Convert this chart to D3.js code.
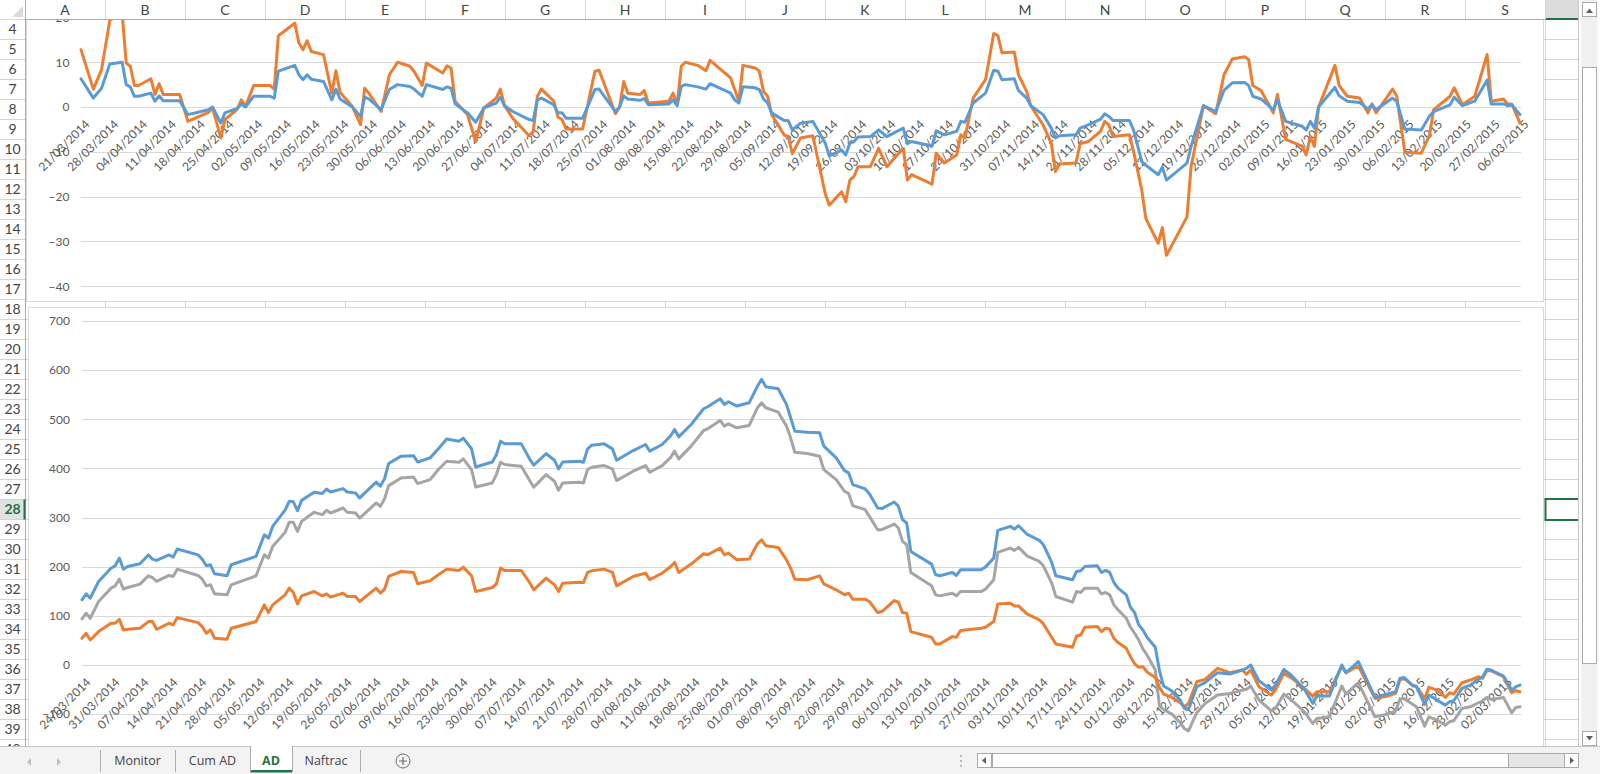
<!DOCTYPE html>
<html>
<head>
<meta charset="utf-8">
<title>AD</title>
<script src="https://cdn.jsdelivr.net/npm/d3@7"></script>
<style>
  html, body { margin: 0; padding: 0; background: #ffffff; overflow: hidden; }
  svg { display: block; }
</style>
</head>
<body>
<svg id="sheet" width="1600" height="774"></svg>
<script>
// ---- data ----
const topDates = [
  "2014-03-21","2014-03-24","2014-03-26","2014-03-28","2014-03-31","2014-04-01","2014-04-02","2014-04-03","2014-04-04","2014-04-07",
  "2014-04-08","2014-04-09","2014-04-10","2014-04-14","2014-04-16","2014-04-21","2014-04-22","2014-04-24","2014-04-25","2014-04-28",
  "2014-04-29","2014-04-30","2014-05-02","2014-05-06","2014-05-07","2014-05-08","2014-05-12","2014-05-13","2014-05-14","2014-05-15",
  "2014-05-16","2014-05-19","2014-05-21","2014-05-22","2014-05-23","2014-05-26","2014-05-28","2014-05-29","2014-05-30","2014-06-02",
  "2014-06-04","2014-06-06","2014-06-09","2014-06-10","2014-06-12","2014-06-13","2014-06-17","2014-06-18","2014-06-19","2014-06-20",
  "2014-06-23","2014-06-25","2014-06-27","2014-06-30","2014-07-01","2014-07-02","2014-07-04","2014-07-08","2014-07-09","2014-07-10",
  "2014-07-11","2014-07-14","2014-07-15","2014-07-16","2014-07-17","2014-07-21","2014-07-24","2014-07-25","2014-07-29","2014-07-30",
  "2014-07-31","2014-08-01","2014-08-04","2014-08-05","2014-08-06","2014-08-11","2014-08-12","2014-08-13","2014-08-14","2014-08-15",
  "2014-08-18","2014-08-20","2014-08-21","2014-08-26","2014-08-27","2014-08-28","2014-08-29","2014-09-01","2014-09-02","2014-09-03",
  "2014-09-04","2014-09-05","2014-09-08","2014-09-09","2014-09-10","2014-09-12","2014-09-15","2014-09-18","2014-09-19","2014-09-22",
  "2014-09-23","2014-09-24","2014-09-25","2014-09-26","2014-09-29","2014-10-01","2014-10-03","2014-10-07","2014-10-08","2014-10-09",
  "2014-10-14","2014-10-15","2014-10-17","2014-10-20","2014-10-21","2014-10-22","2014-10-24","2014-10-27","2014-10-29","2014-10-30",
  "2014-10-31","2014-11-03","2014-11-04","2014-11-06","2014-11-07","2014-11-10","2014-11-12","2014-11-13","2014-11-14","2014-11-18",
  "2014-11-19","2014-11-21","2014-11-24","2014-11-25","2014-11-26","2014-11-27","2014-12-01","2014-12-02","2014-12-04","2014-12-05",
  "2014-12-08","2014-12-09","2014-12-10","2014-12-15","2014-12-16","2014-12-19","2014-12-22","2014-12-24","2014-12-26","2014-12-29",
  "2014-12-30","2014-12-31","2015-01-02","2015-01-05","2015-01-06","2015-01-08","2015-01-12","2015-01-13","2015-01-14","2015-01-15",
  "2015-01-16","2015-01-20","2015-01-21","2015-01-23","2015-01-26","2015-01-28","2015-01-29","2015-01-30","2015-02-03","2015-02-04",
  "2015-02-06","2015-02-10","2015-02-12","2015-02-13","2015-02-17","2015-02-18","2015-02-20","2015-02-23","2015-02-26","2015-02-27",
  "2015-03-02","2015-03-03","2015-03-04","2015-03-06"
];
const topBlue = [
  6.3, 2.0, 4.2, 9.6, 10.0, 5.0, 4.5, 2.4, 2.4, 3.1,
  1.3, 2.5, 1.4, 1.4, -1.7, -0.6, 0.0, -3.6, -1.3, -0.3,
  0.7, 0.0, 2.4, 2.4, 2.0, 8.0, 9.3, 7.2, 6.1, 7.2,
  6.2, 5.7, 1.6, 4.0, 1.8, 0.0, -2.1, 2.2, 1.8, -0.6,
  3.9, 5.0, 4.6, 4.0, 2.4, 5.0, 3.9, 4.5, 4.2, 0.7,
  -1.3, -3.4, -0.2, 0.9, 2.2, 0.3, -1.0, -2.8, -3.0, 1.6,
  2.0, 0.5, -1.3, -1.3, -2.5, -2.5, 3.9, 4.0, -1.0, 0.0,
  2.5, 1.8, 1.5, 1.9, 0.5, 0.7, 1.6, 0.3, 4.6, 5.0,
  4.5, 4.0, 5.2, 3.1, 1.6, 0.9, 4.5, 4.3, 3.9, 1.8,
  0.9, -1.3, -3.0, -3.0, -5.1, -3.6, -3.2, -8.0, -10.9, -9.6,
  -10.7, -8.1, -7.7, -6.7, -6.6, -5.1, -6.6, -4.7, -8.2, -7.7,
  -8.7, -5.3, -6.2, -5.4, -3.2, -3.4, 0.9, 3.1, 8.2, 8.0,
  6.1, 6.3, 3.7, 2.0, 0.3, -1.7, -4.7, -6.9, -6.4, -6.2,
  -4.7, -4.0, -2.7, -1.5, -2.1, -3.0, -3.0, -5.1, -12.2, -13.0,
  -15.1, -13.4, -16.3, -12.5, -8.8, 0.3, -1.0, 3.7, 5.4, 5.5,
  4.8, 2.4, 1.8, -0.6, 1.6, -3.2, -4.3, -5.1, -3.2, -4.7,
  0.0, 4.4, 2.5, 1.3, 1.0, -0.4, 0.5, -0.6, 2.0, 1.3,
  -4.9, -5.1, -2.0, -1.0, 0.5, 2.2, 0.3, 1.3, 6.0, 0.7,
  0.7, 0.3, 0.5, -1.7
];
const topOrange = [
  12.8, 4.0, 8.3, 19.3, 21.0, 9.8, 9.1, 4.8, 4.8, 6.3,
  2.8, 5.2, 2.8, 2.8, -3.2, -1.2, -0.2, -6.9, -2.8, -0.5,
  1.6, 0.1, 4.8, 4.8, 4.0, 15.9, 18.7, 14.3, 12.8, 14.8,
  12.4, 11.7, 3.1, 8.1, 3.3, 0.1, -3.9, 4.2, 3.1, -1.0,
  7.2, 10.0, 9.1, 8.0, 4.8, 9.8, 7.6, 9.2, 8.7, 1.3,
  -1.7, -7.7, -0.2, 2.0, 4.0, 0.3, -2.5, -6.4, -5.5, 2.4,
  4.0, 1.3, -2.2, -2.8, -4.9, -4.9, 8.0, 8.2, -1.5, 0.0,
  5.7, 3.1, 2.8, 3.7, 0.9, 1.3, 3.1, 0.5, 9.1, 10.0,
  9.3, 8.1, 10.4, 6.5, 3.9, 1.3, 9.3, 8.7, 8.0, 3.5,
  2.4, -1.7, -6.2, -6.6, -10.4, -6.9, -6.4, -19.3, -21.9, -18.9,
  -21.1, -16.3, -15.5, -13.3, -13.3, -9.2, -13.3, -9.2, -16.3, -15.1,
  -17.2, -10.3, -12.5, -10.7, -6.2, -6.9, 2.0, 6.1, 16.4, 16.0,
  12.1, 12.3, 7.2, 3.5, 0.3, -4.0, -8.1, -14.4, -12.7, -12.5,
  -8.2, -7.7, -5.4, -3.2, -4.0, -6.6, -6.2, -9.9, -18.5, -24.9,
  -30.4, -26.9, -33.1, -24.5, -13.3, 0.3, -1.5, 7.2, 10.7, 11.2,
  10.6, 4.8, 3.7, -1.3, 2.8, -7.2, -8.7, -10.7, -6.6, -8.8,
  0.0, 9.3, 4.8, 2.4, 2.0, -1.3, 0.7, -1.3, 4.0, 2.5,
  -10.1, -10.3, -6.2, -0.6, 2.4, 4.3, 0.5, 2.4, 11.7, 1.3,
  1.8, 0.7, 0.7, -3.6
];

const bottomDates = [
  "2014-03-24","2014-03-25","2014-03-26","2014-03-28","2014-03-31","2014-04-01","2014-04-02","2014-04-03","2014-04-04","2014-04-07",
  "2014-04-09","2014-04-10","2014-04-11","2014-04-14","2014-04-15","2014-04-16","2014-04-21","2014-04-22","2014-04-23","2014-04-24",
  "2014-04-25","2014-04-28","2014-04-29","2014-05-05","2014-05-07","2014-05-08","2014-05-09","2014-05-12","2014-05-13","2014-05-14",
  "2014-05-15","2014-05-16","2014-05-19","2014-05-21","2014-05-22","2014-05-23","2014-05-26","2014-05-27","2014-05-29","2014-05-30",
  "2014-06-03","2014-06-04","2014-06-05","2014-06-06","2014-06-09","2014-06-12","2014-06-13","2014-06-16","2014-06-18","2014-06-20",
  "2014-06-23","2014-06-24","2014-06-26","2014-06-27","2014-07-01","2014-07-02","2014-07-03","2014-07-04","2014-07-08","2014-07-10",
  "2014-07-11","2014-07-14","2014-07-16","2014-07-17","2014-07-18","2014-07-22","2014-07-23","2014-07-24","2014-07-25","2014-07-28",
  "2014-07-30","2014-07-31","2014-08-04","2014-08-07","2014-08-08","2014-08-11","2014-08-13","2014-08-14","2014-08-15","2014-08-18",
  "2014-08-21","2014-08-22","2014-08-25","2014-08-26","2014-08-27","2014-08-29","2014-09-01","2014-09-03","2014-09-04","2014-09-05",
  "2014-09-08","2014-09-10","2014-09-11","2014-09-12","2014-09-15","2014-09-18","2014-09-19","2014-09-22","2014-09-24","2014-09-25",
  "2014-09-26","2014-09-29","2014-09-30","2014-10-02","2014-10-03","2014-10-06","2014-10-07","2014-10-08","2014-10-09","2014-10-10",
  "2014-10-15","2014-10-16","2014-10-17","2014-10-20","2014-10-21","2014-10-22","2014-10-27","2014-10-28","2014-10-30","2014-10-31",
  "2014-11-03","2014-11-04","2014-11-05","2014-11-07","2014-11-10","2014-11-11","2014-11-13","2014-11-14","2014-11-18","2014-11-19",
  "2014-11-20","2014-11-21","2014-11-24","2014-11-25","2014-11-26","2014-11-27","2014-11-28","2014-11-29","2014-12-01","2014-12-02",
  "2014-12-03","2014-12-04","2014-12-05","2014-12-06","2014-12-08","2014-12-09","2014-12-10","2014-12-12","2014-12-14","2014-12-15",
  "2014-12-16","2014-12-18","2014-12-20","2014-12-23","2014-12-26","2014-12-29","2014-12-30","2014-12-31","2015-01-02","2015-01-05",
  "2015-01-06","2015-01-08","2015-01-10","2015-01-13","2015-01-15","2015-01-16","2015-01-19","2015-01-22","2015-01-23","2015-01-26",
  "2015-01-30","2015-02-02","2015-02-04","2015-02-05","2015-02-06","2015-02-08","2015-02-09","2015-02-11","2015-02-12","2015-02-14",
  "2015-02-16","2015-02-17","2015-02-18","2015-02-20","2015-02-22","2015-02-24","2015-02-25","2015-02-26","2015-02-27","2015-03-02",
  "2015-03-04","2015-03-05","2015-03-06"
];
const bottomBlue = [
  132.6, 144.8, 136, 170, 197, 202, 217.5, 195, 200.5, 206,
  224, 215.5, 213, 224, 219.6, 236, 224, 215.5, 202, 204,
  185.6, 181.5, 204, 221, 265, 258, 282, 315, 333, 332,
  314, 335, 351.5, 349, 358, 352, 359, 352, 350, 340,
  372, 364, 379, 410, 425, 426, 413, 421.5, 440, 460,
  455.5, 461.6, 440, 403, 413, 428, 455.5, 450, 450, 419.5,
  406.5, 430.3, 416.7, 399, 413.3, 414.7, 412.6, 439.8, 447.3, 450,
  439.8, 416.7, 436.4, 448.7, 435.1, 448.7, 466, 479.3, 464.3, 489.5,
  521.4, 525.5, 541.8, 530.3, 535.7, 526.9, 533.7, 567.6, 581.2, 566.3,
  562.2, 530.3, 503.1, 475.9, 473.8, 472.5, 445.3, 421.5, 395.6, 390.9,
  367.1, 358.3, 348.7, 319.5, 318.2, 331.7, 322.9, 295.7, 288.9, 231.1,
  205.3, 183.5, 181.5, 188.3, 182.2, 193.7, 193.7, 199.2, 217.5, 274,
  282.1, 276.7, 283.5, 266.5, 253.6, 244.7, 208.7, 181.5, 173.4, 190.3,
  191.7, 200.5, 201.9, 188.3, 192.4, 188.3, 167.9, 156.4, 142.8, 117.6,
  106.7, 81.6, 71.4, 56.4, 36, -11.6, -42.8, -53, -71.4, -88,
  -90.4, -44.2, -36, -15.6, -18.4, -10.2, -6.8, 0, -32, -51,
  -40.8, -8.8, -22.4, -49.6, -78.2, -63.2, -63.2, 0, -15.6, 6.8,
  -65.9, -59.1, -54.4, -27.2, -25.2, -40.8, -44.2, -80.2, -61.2, -71.4,
  -81.6, -74.8, -72.7, -47.6, -40.8, -29.2, -23.8, -8.8, -10.2, -22.4,
  -51, -44.2, -40.8
];
const bottomGray = [
  93.8, 105.4, 95.2, 129.2, 156.4, 161.1, 174.7, 154.3, 157.7, 164.5,
  181.5, 178.1, 170, 182.2, 180.2, 195.1, 182.2, 174.7, 161.1, 163.2,
  144.8, 142.8, 163.2, 181.5, 224.3, 217.5, 241.3, 269.9, 290.3, 290.3,
  271.9, 292.3, 310.7, 305.9, 314.8, 309.3, 319.5, 310.7, 309.3, 299.1,
  329.7, 322.9, 337.9, 365, 380.7, 382.7, 369.1, 377.3, 397.7, 414.7,
  412.6, 419.4, 397.7, 362.3, 370.5, 387.5, 412.6, 407.9, 404.5, 375.9,
  361.7, 387.5, 373.9, 355.5, 370.5, 371.9, 370.5, 397.7, 402.4, 405.8,
  399, 375.3, 394.3, 405.8, 392.3, 405.8, 422, 435.1, 419.4, 445.3,
  477.2, 480.6, 497.6, 486.1, 490.8, 482.7, 487.4, 523.5, 533.7, 523.5,
  514.6, 486.1, 462.3, 433, 430.3, 424.9, 397.7, 377.3, 353.5, 348.7,
  324.3, 316.1, 302.5, 275.3, 275.3, 286.9, 278.7, 251.5, 244.7, 188.3,
  161.1, 142.8, 140.7, 146.2, 140.7, 149.6, 149.6, 154.3, 173.4, 229.1,
  237.9, 233.2, 239.3, 222.3, 210.7, 201.9, 166.6, 139.4, 128, 149.6,
  147.5, 156.4, 156.4, 144.8, 147.5, 142.8, 122.4, 112.2, 95.2, 76.8,
  64.6, 51, 33, 20.4, -10.2, -83.6, -90.4, -100, -117.6, -129.2,
  -133.9, -97, -78.2, -61.2, -57.8, -51, -49.6, -42.8, -71.4, -93.1,
  -88.4, -59.1, -72.7, -95.2, -119, -108.8, -105.4, -42.8, -59.1, -36,
  -105.4, -100, -93.1, -70, -68, -79.5, -85, -124.4, -105.4, -112.2,
  -122.4, -115.6, -113.5, -88.4, -85, -76.8, -72.7, -65.9, -70, -65.9,
  -97.2, -86.3, -85
];
const bottomOrange = [
  54.4, 64.6, 51, 68, 85, 85, 93, 71.4, 72.7, 74.8,
  88.4, 88.4, 72.7, 85, 81.6, 96.5, 86.3, 78.2, 64.6, 71.4,
  54.4, 52.3, 74.8, 88.4, 122.4, 106.7, 122.4, 142.8, 156.4, 147.5,
  124.4, 140.7, 149.6, 140.7, 144.8, 138, 146.2, 139.4, 139.4, 129.2,
  156.4, 146.2, 154.3, 180.2, 190.3, 188.3, 165.2, 171.3, 183.6, 195.1,
  192.4, 199.2, 181.5, 149.6, 157.7, 165.2, 197.1, 192.4, 192.4, 167.9,
  153, 176.8, 163.2, 149.6, 166.6, 168.6, 167.9, 188.3, 191.7, 195.1,
  188.3, 161.1, 180.2, 187, 173.4, 187, 200, 208.7, 188.3, 205.3,
  226.4, 224.3, 237.9, 224.3, 227.7, 214.1, 215.5, 246.8, 254.9, 242.7,
  239.3, 214.1, 197.1, 174.7, 173.4, 181.5, 165.2, 153, 142.8, 146.2,
  133.9, 133.9, 129.2, 106.7, 108.8, 131.2, 127.8, 106.7, 105.4, 68,
  56.4, 42.8, 42.8, 57.8, 56.4, 70, 74.8, 76.8, 88.4, 124.4,
  125.8, 120.3, 120.3, 104, 91.8, 83.6, 56.4, 42.8, 36, 59.1,
  61.2, 76.8, 78.2, 68, 74.8, 72.7, 54.4, 45.6, 34, 17,
  2.7, -4.8, -3.4, -14.3, -25.2, -45.5, -59.1, -65.9, -76.8, -85,
  -78.2, -34, -29.2, -6.8, -15.6, -10.2, -18.4, -10.2, -44.2, -61.2,
  -51, -17, -27.2, -47.6, -63.2, -54.4, -54.4, -2, -15.6, -2,
  -68, -63.2, -57.8, -30.6, -27.2, -40.8, -44.2, -68, -45.5, -51,
  -65.9, -56.4, -59.1, -36, -30.6, -23.8, -27.2, -11.6, -11.6, -23.8,
  -56.4, -52.3, -54.4
];

const topYTicks = [20, 10, 0, -10, -20, -30, -40];
const bottomYTicks = [700, 600, 500, 400, 300, 200, 100, 0, -100, -200];
const columnLetters = ["A","B","C","D","E","F","G","H","I","J","K","L","M","N","O","P","Q","R","S","T"];
const rowNumbers = d3.range(4, 41);
const sheetNames = ["Monitor", "Cum AD", "AD", "Naftrac"];
const activeSheet = "AD";
const activeRow = 28;

// ---- sheet geometry ----
const FONT = "Lato, 'Open Sans', sans-serif";
const headH = 19.5, rowH = 20, rowHeadW = 25, colW = 80;
const gridBottom = 746;
const gridRight = 1578;
const excelGreen = "#217346";

const parseDay = d3.timeParse("%Y-%m-%d");
const fmtDay = d3.timeFormat("%d/%m/%Y");
const rowTop = r => headH + (r - 4) * rowH;
const colT = rowHeadW + 19 * colW;

const svg = d3.select("#sheet");

// cell gridlines (only visible where no chart covers them)
const cells = svg.append("g");
cells.selectAll("line.col").data(d3.range(0, 20)).join("line")
  .attr("x1", i => rowHeadW + i * colW + 0.5).attr("x2", i => rowHeadW + i * colW + 0.5)
  .attr("y1", headH).attr("y2", gridBottom)
  .attr("stroke", "#D4D4D4");
cells.selectAll("line.row").data(rowNumbers).join("line")
  .attr("x1", rowHeadW).attr("x2", gridRight)
  .attr("y1", r => rowTop(r) + rowH).attr("y2", r => rowTop(r) + rowH)
  .attr("stroke", "#D4D4D4");

// selected cell T28
svg.append("rect")
  .attr("x", colT + 0.5).attr("y", rowTop(activeRow) - 0.5)
  .attr("width", gridRight - colT + 2).attr("height", rowH + 1)
  .attr("fill", "none").attr("stroke", excelGreen).attr("stroke-width", 2);

function drawChart(cfg) {
  const g = svg.append("g");
  g.append("rect")
    .attr("x", cfg.frame[0]).attr("y", cfg.frame[1])
    .attr("width", cfg.frame[2]).attr("height", cfg.frame[3])
    .attr("fill", "#ffffff").attr("stroke", "#D9D9D9");

  const dates = cfg.dates.map(parseDay);
  const x = d3.scaleTime().domain(d3.extent(dates)).range([cfg.left, cfg.right]);
  const y = d3.scaleLinear().domain(cfg.yDomain).range([cfg.yBottom, cfg.yTop]);

  g.append("g").selectAll("line").data(cfg.yTicks).join("line")
    .attr("x1", cfg.left).attr("x2", cfg.right + 1)
    .attr("y1", d => Math.round(y(d)) + 0.5).attr("y2", d => Math.round(y(d)) + 0.5)
    .attr("stroke", "#D9D9D9");

  const yAxis = g.append("g")
    .attr("transform", `translate(${cfg.labelRight},0)`)
    .call(d3.axisLeft(y).tickValues(cfg.yTicks).tickSize(0).tickPadding(0));
  yAxis.select(".domain").remove();
  yAxis.attr("font-family", FONT).attr("font-size", 12);
  yAxis.selectAll("text").attr("fill", "#595959");

  const weekTicks = d3.timeDay.range(dates[0], d3.timeDay.offset(dates[dates.length - 1], 1), 7);
  const xAxis = g.append("g")
    .attr("transform", `translate(0,${y(0)})`)
    .call(d3.axisBottom(x).tickValues(weekTicks).tickFormat(fmtDay).tickSize(0));
  xAxis.select(".domain").remove();
  xAxis.attr("font-family", FONT).attr("font-size", 12);
  xAxis.selectAll("text")
    .attr("x", 0).attr("y", 0).attr("dy", "0.35em")
    .attr("text-anchor", "end")
    .attr("transform", "translate(6,15) rotate(-45)")
    .attr("fill", "#595959");

  cfg.series.forEach(s => {
    g.append("path")
      .datum(s.values)
      .attr("d", d3.line().x((d, i) => x(dates[i])).y(d => y(d)))
      .attr("fill", "none")
      .attr("stroke", s.color)
      .attr("stroke-width", 3)
      .attr("stroke-linejoin", "round")
      .attr("stroke-linecap", "round");
  });
}

drawChart({
  frame: [26.5, -80, 1517, 381.5],
  dates: topDates,
  left: 81, right: 1520,
  yDomain: [-40, 20], yBottom: 286.3, yTop: 17.4,
  yTicks: topYTicks, labelRight: 69.5,
  series: [
    { values: topOrange, color: "#ED7D31" },
    { values: topBlue, color: "#5B9BD5" }
  ]
});

drawChart({
  frame: [28.5, 307.5, 1515, 600],
  dates: bottomDates,
  left: 82, right: 1520,
  yDomain: [-200, 700], yBottom: 763.3, yTop: 321,
  yTicks: bottomYTicks, labelRight: 70,
  series: [
    { values: bottomGray, color: "#A5A5A5" },
    { values: bottomOrange, color: "#ED7D31" },
    { values: bottomBlue, color: "#5B9BD5" }
  ]
});

// ---- column header ----
const head = svg.append("g");
head.append("rect").attr("x", 0).attr("y", 0).attr("width", gridRight).attr("height", headH).attr("fill", "#ffffff");
head.append("rect")
  .attr("x", colT + 1).attr("y", 0).attr("width", gridRight - colT - 1).attr("height", headH)
  .attr("fill", "#DCDCDC");
head.selectAll("line.sep").data(d3.range(0, 20)).join("line")
  .attr("x1", i => rowHeadW + i * colW + 0.5).attr("x2", i => rowHeadW + i * colW + 0.5)
  .attr("y1", 0).attr("y2", headH)
  .attr("stroke", "#D4D4D4");
head.selectAll("text").data(columnLetters.slice(0, 19)).join("text")
  .attr("x", (d, i) => rowHeadW + i * colW + colW / 2)
  .attr("y", 10).attr("dy", "0.35em")
  .attr("text-anchor", "middle")
  .attr("font-family", FONT).attr("font-size", 14)
  .attr("fill", "#444444")
  .text(d => d);
head.append("line").attr("x1", 0).attr("x2", gridRight).attr("y1", headH).attr("y2", headH)
  .attr("stroke", "#ABABAB");
head.append("line")
  .attr("x1", colT + 1).attr("x2", gridRight).attr("y1", headH - 0.5).attr("y2", headH - 0.5)
  .attr("stroke", excelGreen).attr("stroke-width", 2);
head.append("path").attr("d", "M23,6 L23,17 L12,17 Z").attr("fill", "#DADADA");

// ---- row header ----
const rows = svg.append("g");
rows.append("rect").attr("x", 0).attr("y", headH).attr("width", rowHeadW).attr("height", gridBottom - headH).attr("fill", "#ffffff");
rows.append("rect").attr("x", 0).attr("y", rowTop(activeRow)).attr("width", rowHeadW).attr("height", rowH).attr("fill", "#E1E1E1");
rows.selectAll("line").data(rowNumbers).join("line")
  .attr("x1", 0).attr("x2", rowHeadW)
  .attr("y1", r => rowTop(r) + rowH).attr("y2", r => rowTop(r) + rowH)
  .attr("stroke", "#D4D4D4");
rows.selectAll("text").data(rowNumbers).join("text")
  .attr("x", 12.5).attr("y", r => rowTop(r) + rowH / 2).attr("dy", "0.35em")
  .attr("text-anchor", "middle")
  .attr("font-family", FONT).attr("font-size", 14)
  .attr("font-weight", r => r === activeRow ? 700 : 400)
  .attr("fill", r => r === activeRow ? excelGreen : "#444444")
  .text(r => r);
rows.append("line").attr("x1", rowHeadW + 0.5).attr("x2", rowHeadW + 0.5).attr("y1", 0).attr("y2", gridBottom)
  .attr("stroke", "#ABABAB");
rows.append("line").attr("x1", rowHeadW - 0.5).attr("x2", rowHeadW - 0.5)
  .attr("y1", rowTop(activeRow)).attr("y2", rowTop(activeRow) + rowH)
  .attr("stroke", excelGreen).attr("stroke-width", 2);

// ---- vertical scrollbar ----
const vbar = svg.append("g");
vbar.append("rect").attr("x", gridRight).attr("y", 0).attr("width", 1600 - gridRight).attr("height", gridBottom).attr("fill", "#ffffff");
vbar.append("line").attr("x1", gridRight + 0.5).attr("x2", gridRight + 0.5).attr("y1", 0).attr("y2", gridBottom).attr("stroke", "#C8C8C8");
vbar.append("rect").attr("x", 1581.5).attr("y", 0).attr("width", 16).attr("height", gridBottom).attr("fill", "#F0F0F0");
[[2.5, "M1586,13 L1593,13 L1589.5,8.5 Z"], [731.5, "M1586,736 L1593,736 L1589.5,740.5 Z"]].forEach(([yy, tri]) => {
  vbar.append("rect").attr("x", 1582.5).attr("y", yy).attr("width", 14).attr("height", 14)
    .attr("fill", "#ffffff").attr("stroke", "#ABABAB");
  vbar.append("path").attr("d", tri).attr("fill", "#606060");
});
vbar.append("rect").attr("x", 1582.5).attr("y", 67.5).attr("width", 14).attr("height", 596)
  .attr("fill", "#ffffff").attr("stroke", "#ABABAB");

// ---- sheet tab bar ----
const bar = svg.append("g");
bar.append("rect").attr("x", 0).attr("y", gridBottom).attr("width", 1600).attr("height", 774 - gridBottom).attr("fill", "#F3F3F3");
bar.append("line").attr("x1", 0).attr("x2", 1600).attr("y1", gridBottom + 0.5).attr("y2", gridBottom + 0.5).attr("stroke", "#C6C6C6");
bar.append("path").attr("d", "M31,758 L31,766 L27,762 Z").attr("fill", "#C0C0C0");
bar.append("path").attr("d", "M57,758 L57,766 L61,762 Z").attr("fill", "#C0C0C0");

const tabEdges = [100, 175, 250, 292, 360];
const activeIdx = sheetNames.indexOf(activeSheet);
bar.append("rect")
  .attr("x", tabEdges[activeIdx]).attr("y", gridBottom)
  .attr("width", tabEdges[activeIdx + 1] - tabEdges[activeIdx]).attr("height", 774 - gridBottom)
  .attr("fill", "#ffffff");
bar.append("rect")
  .attr("x", tabEdges[activeIdx]).attr("y", 770)
  .attr("width", tabEdges[activeIdx + 1] - tabEdges[activeIdx]).attr("height", 2.5)
  .attr("fill", excelGreen);
bar.selectAll("line.tab").data(tabEdges).join("line")
  .attr("x1", d => d + 0.5).attr("x2", d => d + 0.5)
  .attr("y1", (d, i) => (i === activeIdx || i === activeIdx + 1) ? gridBottom : 750)
  .attr("y2", 772)
  .attr("stroke", "#ABABAB");
bar.selectAll("text.tab").data(sheetNames).join("text")
  .attr("x", (d, i) => (tabEdges[i] + tabEdges[i + 1]) / 2)
  .attr("y", 761).attr("dy", "0.35em")
  .attr("text-anchor", "middle")
  .attr("font-family", "'Open Sans', sans-serif").attr("font-size", 12.5)
  .attr("font-weight", d => d === activeSheet ? 700 : 400)
  .attr("fill", d => d === activeSheet ? excelGreen : "#444444")
  .text(d => d);

bar.append("circle").attr("cx", 403).attr("cy", 761).attr("r", 7).attr("fill", "none").attr("stroke", "#6E6E6E");
bar.append("path").attr("d", "M399,761 L407,761 M403,757 L403,765").attr("stroke", "#6E6E6E").attr("stroke-width", 1.2);

bar.selectAll("circle.dot").data([756, 761, 766]).join("circle")
  .attr("cx", 961).attr("cy", d => d).attr("r", 0.9).attr("fill", "#A0A0A0");

// horizontal scrollbar
bar.append("rect").attr("x", 977.5).attr("y", 753.5).attr("width", 601).attr("height", 14)
  .attr("fill", "#E6E6E6").attr("stroke", "#ABABAB");
bar.append("rect").attr("x", 992.5).attr("y", 753.5).attr("width", 516).attr("height", 14)
  .attr("fill", "#ffffff").attr("stroke", "#ABABAB");
bar.append("rect").attr("x", 977.5).attr("y", 753.5).attr("width", 14).attr("height", 14)
  .attr("fill", "#ffffff").attr("stroke", "#ABABAB");
bar.append("rect").attr("x", 1564.5).attr("y", 753.5).attr("width", 14).attr("height", 14)
  .attr("fill", "#ffffff").attr("stroke", "#ABABAB");
bar.append("path").attr("d", "M986,757 L986,764 L982,760.5 Z").attr("fill", "#606060");
bar.append("path").attr("d", "M1570,757 L1570,764 L1574,760.5 Z").attr("fill", "#606060");
</script>
</body>
</html>
